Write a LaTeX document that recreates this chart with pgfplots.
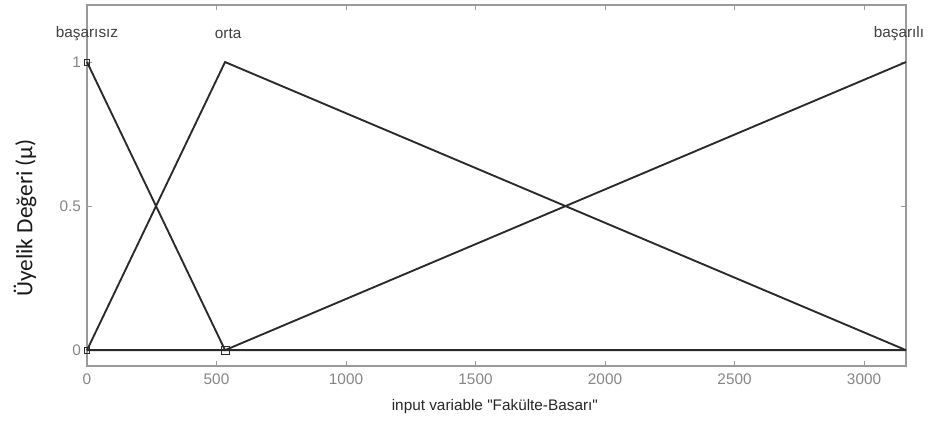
\documentclass[border=0pt]{standalone}
\usepackage{pgfplots}
\pgfplotsset{compat=1.18}
\usepackage{fontspec}
\setmainfont{Liberation Sans}
\newfontfamily\calfont{Carlito}
\definecolor{frame}{HTML}{9A9A9A}
\definecolor{ticklab}{HTML}{858585}
\definecolor{mfline}{HTML}{2A2A2A}
\begin{document}
\begin{tikzpicture}
\useasboundingbox (0pt,0pt) rectangle (702pt,315.75pt);
\begin{axis}[
  at={(65.25pt,41.25pt)}, anchor=south west,
  scale only axis,
  width=614.25pt, height=270.75pt,
  xmin=0, xmax=3162, ymin=-0.055, ymax=1.198,
  axis line style={frame, line width=0.8pt},
  tick style={frame, line width=0.6pt},
  tick align=inside, major tick length=4pt,
  xtick={0,500,1000,1500,2000,2500,3000},
  ytick={0,0.5,1},
  yticklabels={0,0.5,1},
  ticklabel style={font=\fontsize{11.5}{13}\selectfont, text=ticklab},
  xticklabel style={yshift=-2pt},
  yticklabel style={xshift=-1pt},
  /pgf/number format/assume math mode=true,
  scaled x ticks=false,
  xticklabel={\pgfmathprintnumber[fixed,1000 sep={}]{\tick}},
  xlabel={input variable \textquotedbl Fakülte-Basarı\textquotedbl},
  xlabel style={font=\fontsize{11.5}{13}\selectfont, text=black!85, at={(axis description cs:0.498,-0.111)}, anchor=center},
  ylabel={\calfont Üyelik Değeri (μ)},
  ylabel style={font=\fontsize{17.5}{19}\selectfont, text=black!90, at={(axis description cs:-0.0757,0.41)}, anchor=center, rotate=0},
  clip=false,
]
\addplot[gray!70, line width=1.2pt] coordinates {(0,0) (2224,0)};
\addplot[mfline, line width=1.4pt] coordinates {(0,0) (3162,0)};
\addplot[mfline, line width=1.4pt] coordinates {(0,1) (533,0) (3162,0)};
\addplot[mfline, line width=1.4pt] coordinates {(0,0) (533,1) (3162,0)};
\addplot[mfline, line width=1.4pt] coordinates {(0,0) (533,0) (3162,1)};
\addplot[mfline, only marks, mark=square, mark size=2.2pt, mark options={line width=0.7pt}] coordinates {(0,1) (0,0)};
\addplot[mfline, only marks, mark=square, mark size=3pt, mark options={line width=0.7pt}] coordinates {(533,0)};
\node[font=\fontsize{11.5}{13}\selectfont, text=black!75] at (axis cs:0,1.10) {başarısız};
\node[font=\fontsize{11.5}{13}\selectfont, text=black!75] at (axis cs:545,1.10) {orta};
\node[font=\fontsize{11.5}{13}\selectfont, text=black!75] at (axis cs:3135,1.10) {başarılı};
\end{axis}
\end{tikzpicture}
\end{document}
